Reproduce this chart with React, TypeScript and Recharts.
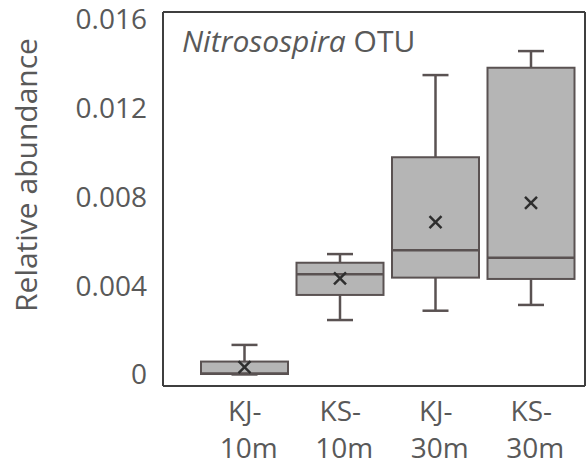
import React from 'react';
import { ComposedChart, Bar, XAxis, YAxis } from 'recharts';

const categories = ['KJ-10m', 'KS-10m', 'KJ-30m', 'KS-30m'];
const minValues = [0, 0.00245, 0.00287, 0.00313];
const q1Values = [0.00002, 0.00358, 0.00436, 0.0043];
const medianValues = [0.00004, 0.00451, 0.00559, 0.00526];
const q3Values = [0.00058, 0.00503, 0.00978, 0.01381];
const maxValues = [0.00133, 0.00542, 0.01348, 0.01456];
const meanValues = [0.00033, 0.00433, 0.00686, 0.00773];
const yTicks = [0, 0.004, 0.008, 0.012, 0.016];

const data = categories.map((c, i) => ({
  category: c,
  range: [minValues[i], maxValues[i]],
  min: minValues[i],
  q1: q1Values[i],
  median: medianValues[i],
  q3: q3Values[i],
  max: maxValues[i],
  mean: meanValues[i],
}));

const FONT = '"Open Sans", "Liberation Sans", sans-serif';
const TEXT = '#595959';
const FRAME = '#3f3f3f';
const BOX_STROKE = '#5a5252';
const BOX_FILL = '#b5b5b5';

const BoxShape = (props: any) => {
  const { x, y, width, height, payload } = props;
  if (!payload) return null;
  const { min, q1, median, q3, max, mean } = payload;
  const k = height / (max - min);
  const toY = (v: number) => y + (max - v) * k;
  const cx = x + width / 2;
  const cap = 13;
  const m = 6;
  const yMean = toY(mean);
  return (
    <g>
      <line x1={cx} x2={cx} y1={toY(max)} y2={toY(q3)} stroke={BOX_STROKE} strokeWidth={2.5} />
      <line x1={cx} x2={cx} y1={toY(q1)} y2={toY(min)} stroke={BOX_STROKE} strokeWidth={2.5} />
      <line x1={cx - cap} x2={cx + cap} y1={toY(max)} y2={toY(max)} stroke={BOX_STROKE} strokeWidth={2.5} />
      <line x1={cx - cap} x2={cx + cap} y1={toY(min)} y2={toY(min)} stroke={BOX_STROKE} strokeWidth={2.5} />
      <rect x={x} y={toY(q3)} width={width} height={Math.max(toY(q1) - toY(q3), 0)} fill={BOX_FILL} stroke={BOX_STROKE} strokeWidth={2} />
      <line x1={x} x2={x + width} y1={toY(median)} y2={toY(median)} stroke={BOX_STROKE} strokeWidth={2.5} />
      <line x1={cx - m} x2={cx + m} y1={yMean - m} y2={yMean + m} stroke="#2e2e2e" strokeWidth={2.5} />
      <line x1={cx - m} x2={cx + m} y1={yMean + m} y2={yMean - m} stroke="#2e2e2e" strokeWidth={2.5} />
    </g>
  );
};

const CategoryTick = (props: any) => {
  const { x, y, payload } = props;
  const label: string = payload.value;
  const idx = label.indexOf('-');
  const line1 = label.slice(0, idx + 1);
  const line2 = label.slice(idx + 1);
  return (
    <g>
      <text x={x} y={y + 27} textAnchor="middle" fill={TEXT} fontSize={28} fontFamily={FONT}>{line1}</text>
      <text x={x + 4} y={y + 64} textAnchor="middle" fill={TEXT} fontSize={28} fontFamily={FONT}>{line2}</text>
    </g>
  );
};

const fmt = (v: number) => (v === 0 ? '0' : v.toFixed(3));

export default function App() {
  return (
    <div style={{ position: 'absolute', left: 0, top: 0, width: 587, height: 466, background: '#fff' }}>
      <ComposedChart
        width={587}
        height={466}
        data={data}
        margin={{ top: 11, right: 1, bottom: 0, left: 0 }}
      >
        <XAxis
          dataKey="category"
          height={80}
          padding={{ left: 34, right: 6 }}
          tickLine={false}
          axisLine={{ stroke: FRAME, strokeWidth: 2 }}
          tick={<CategoryTick />}
          interval={0}
        />
        <XAxis
          xAxisId="top"
          orientation="top"
          dataKey="category"
          height={1}
          tick={false}
          tickLine={false}
          axisLine={{ stroke: FRAME, strokeWidth: 2 }}
        />
        <YAxis
          type="number"
          domain={[-0.00052, 0.01632]}
          ticks={yTicks}
          allowDataOverflow
          width={163}
          tickLine={false}
          tickMargin={10}
          tickFormatter={fmt}
          axisLine={{ stroke: FRAME, strokeWidth: 2 }}
          tick={{ fill: TEXT, fontSize: 28, fontFamily: FONT }}
          label={{
            content: () => (
              <g>
                <text
                  x={25}
                  y={175}
                  transform="rotate(-90 25 175)"
                  textAnchor="middle"
                  dominantBaseline="central"
                  fill={TEXT}
                  fontSize={30}
                  fontFamily={FONT}
                >
                  Relative abundance
                </text>
                <text x={182} y={52} fill={TEXT} fontSize={30} fontFamily={FONT}>
                  <tspan fontStyle="italic">Nitrosospira</tspan>
                  <tspan> OTU</tspan>
                </text>
              </g>
            ),
          }}
        />
        <YAxis
          yAxisId="right"
          orientation="right"
          type="number"
          domain={[0, 1]}
          width={1}
          tick={false}
          tickLine={false}
          axisLine={{ stroke: FRAME, strokeWidth: 2 }}
        />
        <Bar dataKey="range" barSize={87} shape={<BoxShape />} isAnimationActive={false} />
      </ComposedChart>
    </div>
  );
}
